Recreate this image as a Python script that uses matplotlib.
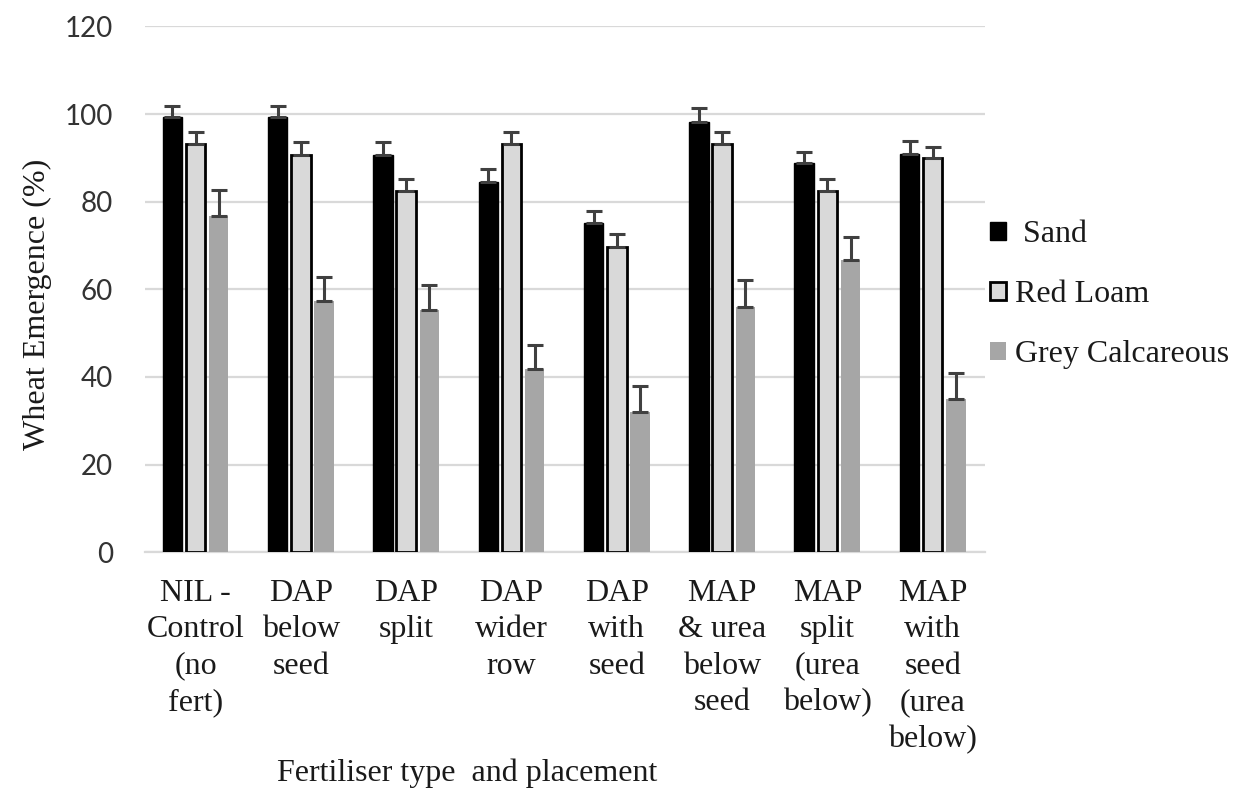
import numpy as np
import matplotlib
matplotlib.use("Agg")
import matplotlib.pyplot as plt

categories = ["NIL -\nControl\n(no\nfert)", "DAP\nbelow\nseed", "DAP\nsplit", "DAP\nwider\nrow",
              "DAP\nwith\nseed", "MAP\n& urea\nbelow\nseed", "MAP\nsplit\n(urea\nbelow)",
              "MAP\nwith\nseed\n(urea\nbelow)"]
series_names = [" Sand", "Red Loam", "Grey Calcareous"]
sand = [99.4, 99.4, 90.7, 84.5, 75.2, 98.2, 88.9, 90.8]
sand_err = [2.5, 2.5, 3.0, 2.9, 2.7, 3.1, 2.5, 3.0]
red_loam = [93.2, 90.7, 82.5, 93.2, 69.7, 93.1, 82.5, 89.9]
red_loam_err = [2.6, 3.0, 2.6, 2.6, 2.9, 2.7, 2.6, 2.6]
grey_calc = [76.8, 57.3, 55.3, 41.7, 31.9, 56.0, 66.7, 34.9]
grey_calc_err = [5.8, 5.6, 5.7, 5.6, 6.0, 6.1, 5.3, 6.0]
yticks = [0, 20, 40, 60, 80, 100, 120]

serif = "Liberation Serif"
sans = "Lato"

fig = plt.figure(figsize=(12.34, 7.9), dpi=100)
ax = fig.add_axes([0.1175, 0.301, 0.681, 0.6656])

x = np.arange(len(categories))
off = 0.22
w = 0.185
ekw = dict(ecolor="#404040", elinewidth=2.2, capsize=6, capthick=2.2)

ax.bar(x - off, sand, w, color="black", edgecolor="black", linewidth=1,
       yerr=[np.zeros(len(sand)), sand_err], error_kw=ekw, label=series_names[0], zorder=3)
ax.bar(x, red_loam, w, color="#d9d9d9", edgecolor="black", linewidth=2,
       yerr=[np.zeros(len(red_loam)), red_loam_err], error_kw=ekw, label=series_names[1], zorder=3)
ax.bar(x + off, grey_calc, w, color="#a6a6a6", linewidth=0,
       yerr=[np.zeros(len(grey_calc)), grey_calc_err], error_kw=ekw, label=series_names[2], zorder=3)

ax.set_xlim(-0.48, 7.5)
ax.set_ylim(0, 120)
ax.set_yticks(yticks)
ax.yaxis.grid(True, color="#d9d9d9", linewidth=1.6)
ax.set_axisbelow(True)
for s in ["top", "right", "left"]:
    ax.spines[s].set_visible(False)
ax.spines["bottom"].set_color("#d9d9d9")
ax.spines["bottom"].set_linewidth(1.6)

ax.set_xticks(x)
ax.set_xticklabels(categories, fontfamily=serif, fontsize=23, linespacing=1.34, multialignment="center")
ax.tick_params(axis="x", length=0, pad=19, labelcolor="#1a1a1a")
ax.tick_params(axis="y", length=0, pad=23, labelsize=20, labelcolor="#333333")
for t in ax.get_yticklabels():
    t.set_fontfamily(sans)

fig.text(0.03, 0.615, "Wheat Emergence (%)", rotation=90, ha="center", va="center",
         fontfamily=serif, fontsize=23, color="#1a1a1a")
fig.text(0.379, 0.021, "Fertiliser type  and placement", ha="center", va="center",
         fontfamily=serif, fontsize=23, color="#1a1a1a")

leg = ax.legend(loc="center left", bbox_to_anchor=(1.005, 0.49), frameon=False,
                prop={"family": serif, "size": 23}, handlelength=0.5, handleheight=0.5,
                handletextpad=0.3, labelspacing=0.97, borderaxespad=0, borderpad=0)
for t in leg.get_texts():
    t.set_color("#1a1a1a")

fig.savefig("out.png", dpi=100, facecolor="white")
